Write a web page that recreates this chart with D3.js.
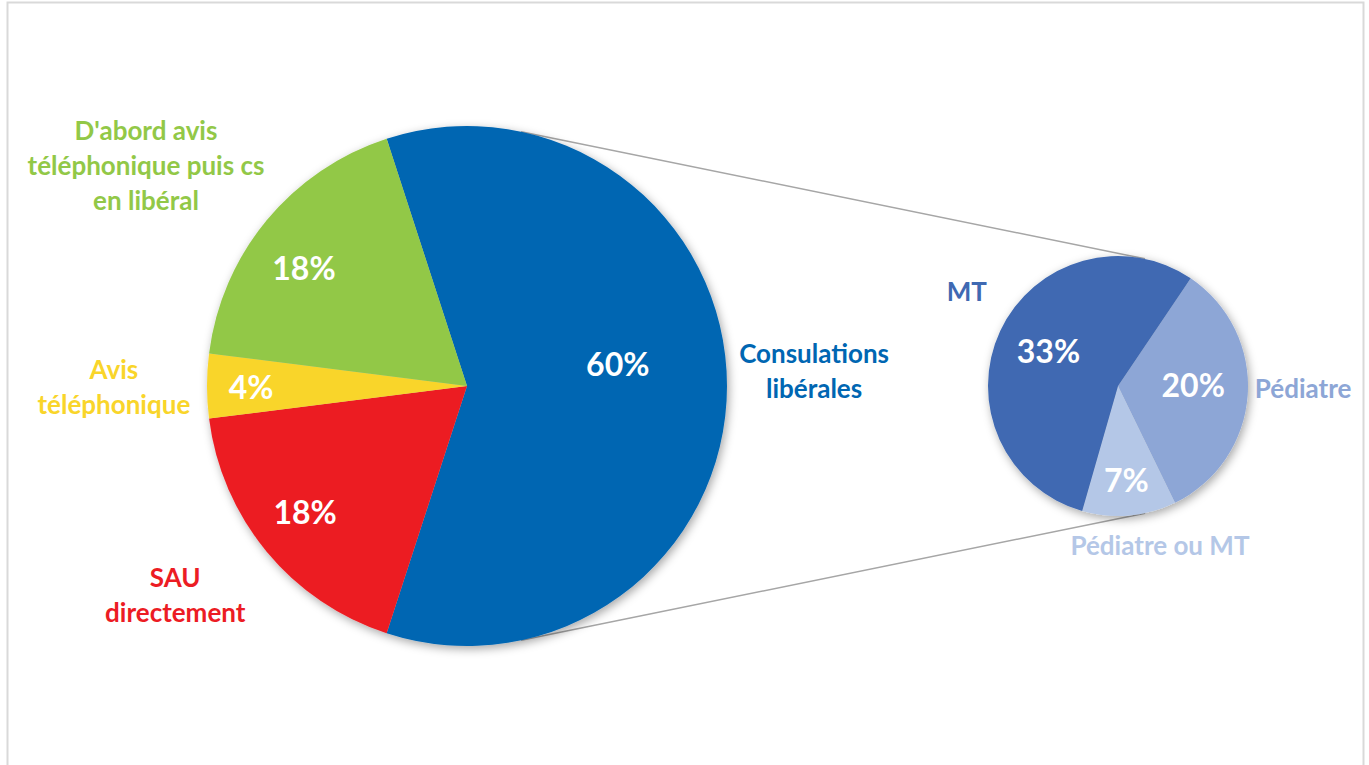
<!DOCTYPE html>
<html>
<head>
<meta charset="utf-8">
<script src="https://cdn.jsdelivr.net/npm/d3@7"></script>
<style>
  html, body { margin: 0; padding: 0; background: #ffffff; }
  svg { display: block; }
  text { font-family: Lato, "Open Sans", sans-serif; font-weight: 700; }
</style>
</head>
<body>
<svg id="chart" width="1369" height="765"></svg>
<script>
// Main pie: how patients first sought care
const mainCategories = ["Consulations libérales", "SAU directement", "Avis téléphonique", "D'abord avis téléphonique puis cs en libéral"];
const mainValues = [60, 18, 4, 18];
const mainColors = ["#0066b2", "#ec1c24", "#f9d52a", "#92c847"];
const mainLabelLines = [["Consulations", "libérales"], ["SAU", "directement"], ["Avis", "téléphonique"], ["D'abord avis", "téléphonique puis cs", "en libéral"]];

// Secondary pie: breakdown of "Consulations libérales"
const subCategories = ["Pédiatre", "Pédiatre ou MT", "MT"];
const subValues = [20, 7, 33];
const subColors = ["#8da6d6", "#b4c7e7", "#3f69b2"];
const subLabelLines = [["Pédiatre"], ["Pédiatre ou MT"], ["MT"]];

const deg = Math.PI / 180;
const svg = d3.select("#chart");

// Chart frame
svg.append("rect")
  .attr("x", 7.5).attr("y", 2.5)
  .attr("width", 1356).attr("height", 800)
  .attr("fill", "#ffffff")
  .attr("stroke", "#d9d9d9").attr("stroke-width", 2);

// Soft shadow under each pie
const defs = svg.append("defs");
const shadow = defs.append("filter").attr("id", "pieShadow")
  .attr("x", "-20%").attr("y", "-20%").attr("width", "140%").attr("height", "140%");
shadow.append("feDropShadow")
  .attr("dx", 2).attr("dy", 3).attr("stdDeviation", 5)
  .attr("flood-color", "#000000").attr("flood-opacity", 0.35);

const main = { cx: 467, cy: 386, r: 260 };
const sub = { cx: 1118, cy: 386, r: 130 };

const polar = (c, angle, radius) => [c.cx + radius * Math.sin(angle), c.cy - radius * Math.cos(angle)];

// Connector lines between the two pies (drawn behind them)
const connectAngle = 12 * deg;
[connectAngle, Math.PI - connectAngle].forEach(a => {
  const p1 = polar(main, a, main.r);
  const p2 = polar(sub, a, sub.r);
  svg.append("line")
    .attr("x1", p1[0]).attr("y1", p1[1])
    .attr("x2", p2[0]).attr("y2", p2[1])
    .attr("stroke", "#a6a6a6").attr("stroke-width", 1.5);
});

function drawPie(c, values, colors, startDeg) {
  const pie = d3.pie().sort(null)
    .startAngle(startDeg * deg)
    .endAngle((startDeg + 360) * deg)
    .value(d => d);
  const arcs = pie(values);
  const arc = d3.arc().innerRadius(0).outerRadius(c.r);
  const g = svg.append("g")
    .attr("transform", `translate(${c.cx},${c.cy})`)
    .attr("filter", "url(#pieShadow)");
  g.selectAll("path").data(arcs).enter().append("path")
    .attr("d", arc)
    .attr("fill", (d, i) => colors[i]);
  return arcs;
}

const mainArcs = drawPie(main, mainValues, mainColors, -18);
const subArcs = drawPie(sub, subValues, subColors, 34);

// Percentage labels inside slices: [angle offset (deg), radius fraction, vertical shift]
const mainPctPlace = [[0, 0.58, -23], [1.9, 0.787, 0], [0, 0.83, 0], [-3.7, 0.774, 0]];
const subPctPlace = [[0, 0.58, -7], [0, 0.74, -2], [0, 0.59, -3]];

function pctLabels(c, arcs, values, place) {
  arcs.forEach((d, i) => {
    const mid = (d.startAngle + d.endAngle) / 2 + place[i][0] * deg;
    const [x, y] = polar(c, mid, c.r * place[i][1]);
    svg.append("text")
      .attr("x", x).attr("y", y + place[i][2])
      .attr("text-anchor", "middle")
      .attr("dominant-baseline", "central")
      .attr("fill", "#ffffff")
      .attr("font-size", 32)
      .text(values[i] + "%");
  });
}
pctLabels(main, mainArcs, mainValues, mainPctPlace);
pctLabels(sub, subArcs, subValues, subPctPlace);

// Category labels outside the slices: [angle offset (deg), radius fraction, vertical shift]
const mainCatPlace = [[0, 1.335, -16], [4, 1.38, 0], [0, 1.358, 0], [-5, 1.5, 0]];
const subCatPlace = [[-2, 1.425, -4], [-9.8, 1.265, 0], [7, 1.372, 0]];

function catLabels(c, arcs, lines, colors, place) {
  arcs.forEach((d, i) => {
    const mid = (d.startAngle + d.endAngle) / 2 + place[i][0] * deg;
    const [x, y] = polar(c, mid, c.r * place[i][1]);
    const lh = 35;
    const n = lines[i].length;
    const t = svg.append("text")
      .attr("text-anchor", "middle")
      .attr("fill", colors[i])
      .attr("font-size", 26);
    lines[i].forEach((ln, k) => {
      t.append("tspan")
        .attr("x", x)
        .attr("y", y + place[i][2] + (k - (n - 1) / 2) * lh)
        .attr("dominant-baseline", "central")
        .text(ln);
    });
  });
}
catLabels(main, mainArcs, mainLabelLines, mainColors, mainCatPlace);
catLabels(sub, subArcs, subLabelLines, subColors, subCatPlace);
</script>
</body>
</html>
